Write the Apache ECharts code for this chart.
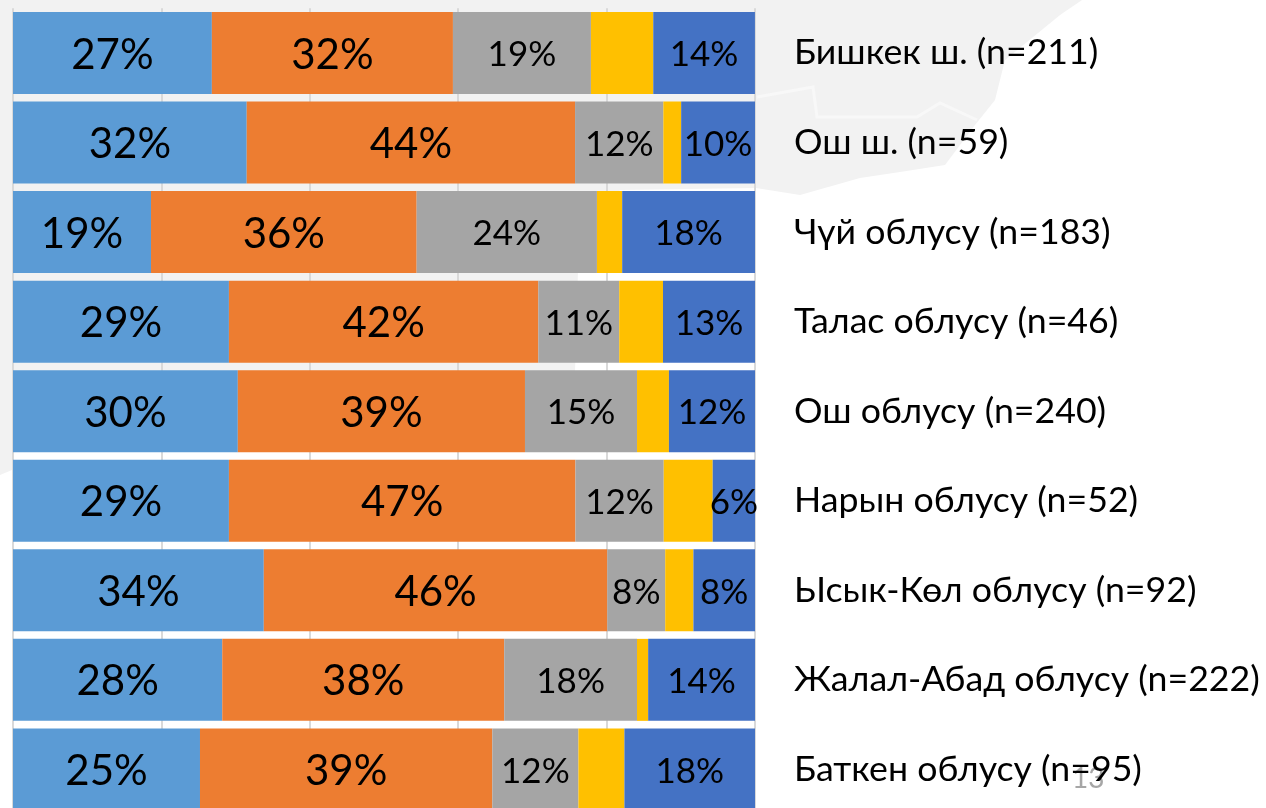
<!DOCTYPE html>
<html>
<head>
<meta charset="utf-8">
<title>Chart</title>
<script src="https://cdn.jsdelivr.net/npm/echarts@6/dist/echarts.min.js"></script>
<style>
  html, body { margin: 0; padding: 0; background: #fff; }
  #main { width: 1266px; height: 808px; }
</style>
</head>
<body>
<div id="main"></div>
<script>
const categories = ['Бишкек ш. (n=211)', 'Ош ш. (n=59)', 'Чүй облусу (n=183)', 'Талас облусу (n=46)', 'Ош облусу (n=240)', 'Нарын облусу (n=52)', 'Ысык-Көл облусу (n=92)', 'Жалал-Абад облусу (n=222)', 'Баткен облусу (n=95)']
const series1 = [26.8, 31.5, 18.6, 29.1, 30.3, 29.1, 33.8, 28.2, 25.2]
const series2 = [32.49, 44.25, 35.8, 41.7, 38.7, 46.7, 46.3, 38.0, 39.4]
const series3 = [18.6, 11.9, 24.3, 10.9, 15.1, 11.9, 7.8, 17.9, 11.6]
const series4 = [8.4, 2.4, 3.4, 5.9, 4.3, 6.6, 3.8, 1.5, 6.2]
const series5 = [13.7, 10.0, 17.9, 12.5, 11.6, 5.7, 8.3, 14.4, 17.7]
const font = 'Lato, "Open Sans", sans-serif'

function barSeries(name, data, color, labelSize) {
  return {
    name: name,
    type: 'bar',
    stack: 'total',
    barWidth: 82,
    data: data,
    itemStyle: {color: color},
    label: {
      show: labelSize > 0,
      position: 'inside',
      offset: [0, 2],
      color: '#000',
      fontFamily: font,
      fontSize: labelSize,
      formatter: p => Math.round(p.value) + '%'
    }
  }
}

const myChart = echarts.init(document.getElementById('main'))
myChart.setOption({
  animation: false,
  backgroundColor: '#fff',
  grid: {left: 13, top: 8.2, width: 742, height: 806, outerBoundsMode: 'none'},
  xAxis: {
    type: 'value',
    min: 0,
    max: 100,
    interval: 20,
    axisLabel: {show: false},
    axisTick: {show: false},
    axisLine: {show: false},
    splitLine: {lineStyle: {color: '#d9d9d9', width: 2}}
  },
  yAxis: {
    type: 'category',
    inverse: true,
    position: 'right',
    data: categories,
    axisTick: {show: false},
    axisLine: {show: false},
    axisLabel: {
      margin: 39,
      padding: [4, 0, 0, 0],
      color: '#000',
      fontFamily: font,
      fontSize: 35.7
    }
  },
  series: [
    barSeries('1', series1, '#5b9bd5', 42),
    barSeries('2', series2, '#ed7d31', 42),
    barSeries('3', series3, '#a5a5a5', 35),
    barSeries('4', series4, '#ffc000', 0),
    barSeries('5', series5, '#4472c4', 35)
  ],
  graphic: [{
    // faint map shape behind the chart
    type: 'polygon',
    z: -10,
    shape: {points: [[0, 0], [1082, 0], [1060, 15], [1005, 60], [995, 100], [975, 125], [945, 165], [900, 172], [860, 178], [800, 195], [756, 188], [620, 190], [578, 270], [575, 372], [13, 430], [12, 470], [0, 475]]},
    style: {fill: '#f2f2f2'}
  }, {
    type: 'polyline',
    z: -9,
    shape: {points: [[757, 97], [813, 87], [817, 117], [917, 117], [940, 103], [977, 120]]},
    style: {stroke: '#f8f8f8', lineWidth: 3, fill: null}
  }, {
    type: 'text',
    left: 1072,
    top: 765,
    style: {text: '13', fill: '#a6a6a6', font: '28px ' + font}
  }]
})
</script>
</body>
</html>
